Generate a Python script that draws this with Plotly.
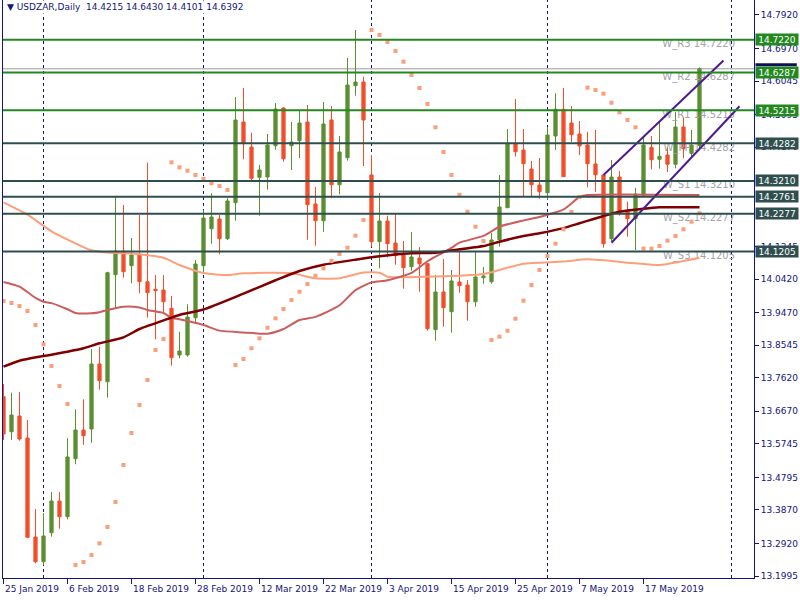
import plotly.graph_objects as go

# ---------------- data ----------------
bar_index = list(range(88))
date_tick_bars = [0, 8, 16, 24, 32, 40, 48, 56, 64, 72, 80]
date_tick_labels = ["25 Jan 2019", "6 Feb 2019", "18 Feb 2019", "28 Feb 2019", "12 Mar 2019",
                    "22 Mar 2019", "3 Apr 2019", "15 Apr 2019", "25 Apr 2019", "7 May 2019", "17 May 2019"]
month_separator_bars = [5, 25, 46, 68, 91]

opens = [13.7085, 13.6091, 13.6537, 13.5912, 13.3102, 13.2401, 13.3224, 13.4124, 13.3679, 13.5325,
         13.6139, 13.6168, 13.8013, 13.7510, 14.0548, 14.1220, 14.0803, 14.1127, 14.0349, 14.0133,
         14.0113, 13.9594, 13.8268, 13.8268, 13.9327, 14.0803, 14.1853, 14.2129, 14.1570, 14.2591,
         14.4882, 14.4172, 14.3312, 14.3321, 14.4209, 14.5279, 14.4209, 14.4351, 14.4882, 14.2555,
         14.2080, 14.4939, 14.3102, 14.3869, 14.5912, 14.6017, 14.3378, 14.1484, 14.2072, 14.1447,
         14.1107, 14.0775, 14.1022, 14.0860, 13.8987, 14.0057, 13.9497, 14.0340, 14.0255, 13.9781,
         14.0463, 14.0349, 14.1541, 14.2449, 14.4266, 14.4087, 14.3548, 14.3094, 14.2875, 14.4485,
         14.5243, 14.4854, 14.4541, 14.4229, 14.3690, 14.3378, 14.1570, 14.3321, 14.2364, 14.2137,
         14.2810, 14.4164, 14.3823, 14.3945, 14.3681, 14.4740, 14.3994, 14.4215]
highs = [13.7445, 13.7198, 13.7218, 13.6423, 13.3897, 13.3784, 13.4380, 13.4380, 13.5904, 13.6727,
         13.7011, 13.8439, 13.8495, 14.0633, 14.2753, 14.2526, 14.1589, 14.2242, 14.3727, 14.0539,
         14.0539, 13.9943, 13.8930, 13.9707, 14.0965, 14.2384, 14.2858, 14.2242, 14.2716, 14.5592,
         14.5847, 14.4578, 14.3662, 14.4541, 14.5421, 14.5308, 14.4882, 14.5223, 14.5365, 14.3037,
         14.5450, 14.5336, 14.4485, 14.6699, 14.7493, 14.6168, 14.3945, 14.2867, 14.2222, 14.2279,
         14.1504, 14.1760, 14.1334, 14.0880, 14.0539, 14.0993, 14.0681, 14.1220, 14.0397, 14.1220,
         14.0766, 14.1731, 14.3378, 14.4683, 14.5535, 14.4683, 14.3775, 14.3860, 14.4740, 14.5697,
         14.5847, 14.5336, 14.4910, 14.4607, 14.4655, 14.3406, 14.3803, 14.3491, 14.2620, 14.3017,
         14.4493, 14.4485, 14.4910, 14.4164, 14.5166, 14.5015, 14.4655, 14.6430]
lows = [13.5856, 13.5856, 13.5836, 13.3074, 13.2356, 13.2308, 13.3111, 13.3338, 13.3605, 13.5166,
        13.5714, 13.5779, 13.7283, 13.7056, 13.9574, 14.0463, 14.0304, 14.0020, 13.9327, 13.8714,
        13.9452, 13.7965, 13.8175, 13.8220, 13.9168, 14.0587, 14.1428, 14.1127, 14.1533, 14.2080,
        14.3823, 14.3187, 14.2222, 14.2960, 14.4096, 14.3755, 14.3520, 14.3860, 14.1541, 14.1371,
        14.1768, 14.2716, 14.2830, 14.3784, 14.5629, 14.3633, 14.1342, 14.0729, 14.1041, 14.0832,
        14.0150, 14.0661, 14.0065, 13.8958, 13.8674, 13.9072, 13.8901, 14.0037, 13.9242, 13.9639,
        14.0292, 14.0292, 14.1342, 14.2441, 14.3897, 14.2762, 14.2782, 14.2705, 14.2677, 14.4087,
        14.3321, 14.4314, 14.3945, 14.3029, 14.2904, 14.1314, 14.1496, 14.2222, 14.1626, 14.1249,
        14.2782, 14.3539, 14.3557, 14.3463, 14.3568, 14.3852, 14.3897, 14.4101]
closes = [13.6026, 13.6565, 13.5884, 13.3094, 13.2401, 13.3131, 13.4124, 13.3679, 13.5373, 13.6139,
          13.5978, 13.8013, 13.7539, 14.0604, 14.1220, 14.0633, 14.1107, 14.0349, 14.0037, 14.0094,
          13.9781, 13.8192, 13.8382, 13.9347, 14.0851, 14.2157, 14.2186, 14.1570, 14.2640, 14.4939,
          14.4266, 14.3284, 14.3520, 14.4229, 14.5251, 14.3840, 14.4314, 14.4854, 14.2535, 14.2080,
          14.4825, 14.3102, 14.4031, 14.5932, 14.6017, 14.4939, 14.1484, 14.2072, 14.1428, 14.1087,
          14.0746, 14.1050, 14.0860, 13.9015, 14.0057, 13.9611, 14.0369, 14.0235, 13.9781, 14.0482,
          14.0511, 14.1533, 14.2469, 14.4266, 14.4039, 14.3698, 14.3102, 14.2904, 14.4513, 14.5243,
          14.3329, 14.4522, 14.4201, 14.3698, 14.3386, 14.1428, 14.3321, 14.2364, 14.2137, 14.2838,
          14.4229, 14.3812, 14.3908, 14.3681, 14.4740, 14.4124, 14.4229, 14.6392]
parabolic_sar = [13.9801, 13.9744, 13.9659, 13.9517, 13.9120, 13.8572, 13.7956, 13.7388, 13.6878, 13.2308,
                 13.2393, 13.2591, 13.2923, 13.3386, 13.4096, 13.5146, 13.6054, 13.6849, 13.7559, 13.8410,
                 13.8723, 14.3738, 14.3596, 14.3500, 14.3378, 14.3264, 14.3142, 14.3065, 14.2952, 13.7985,
                 13.8155, 13.8459, 13.8742, 13.9043, 13.9310, 13.9574, 13.9830, 14.0065, 14.0284, 14.0519,
                 14.0729, 14.0937, 14.1135, 14.1314, 14.1655, 14.2100, 14.7493, 14.7352, 14.7153, 14.6897,
                 14.6594, 14.6216, 14.5847, 14.5393, 14.4732, 14.4031, 14.3378, 14.2818, 14.2336, 14.1910,
                 14.1504, 13.8694, 13.8788, 13.8958, 13.9299, 13.9810, 14.0255, 14.0681, 14.1078, 14.1428,
                 14.1836, 14.2327, 14.2753, 14.5856, 14.5790, 14.5685, 14.5430, 14.5157, 14.4939, 14.4732,
                 14.1286, 14.1286, 14.1362, 14.1513, 14.1646, 14.1836, 14.2052, 14.2290]

ma_slow_bars = [0, 2, 5, 8, 10, 12, 15, 17, 20, 22, 25, 30, 34, 37, 40, 44, 47, 51, 54, 57, 60, 62,
                65, 67, 70, 72, 75, 77, 80, 82, 87]
ma_slow = [13.7936, 13.8107, 13.8240, 13.8362, 13.8459, 13.8600, 13.8770, 13.9006, 13.9250, 13.9404,
           13.9560, 14.0010, 14.0390, 14.0653, 14.0830, 14.0975, 14.1070, 14.1155, 14.1172, 14.1269,
           14.1360, 14.1484, 14.1645, 14.1723, 14.1870, 14.2007, 14.2215, 14.2336, 14.2420, 14.2461, 14.2461]
ma_mid_bars = [0, 2, 4, 5, 6, 8, 9, 11, 12, 13, 15, 17, 18, 20, 21, 22, 25, 27, 30, 33, 35, 37, 39,
               42, 44, 46, 48, 51, 53, 56, 57, 60, 62, 65, 67, 70, 72, 73, 87]
ma_mid = [14.0340, 14.0207, 13.9890, 13.9781, 13.9740, 13.9566, 13.9460, 13.9452, 13.9480, 13.9546,
          13.9639, 13.9617, 13.9546, 13.9460, 13.9320, 13.9282, 13.9120, 13.8960, 13.8910, 13.8873,
          13.9006, 13.9262, 13.9350, 13.9680, 14.0110, 14.0330, 14.0390, 14.0600, 14.0930, 14.1310,
          14.1456, 14.1650, 14.1910, 14.2090, 14.2186, 14.2400, 14.2753, 14.2810, 14.2810]
ma_fast_bars = [0, 3, 6, 11, 13, 17, 20, 22, 25, 28, 30, 36, 39, 42, 45, 47, 48, 60, 62, 65, 70, 73,
                79, 82, 87]
ma_fast = [14.2600, 14.2250, 14.1780, 14.1240, 14.1175, 14.1130, 14.1030, 14.0823, 14.0596, 14.0539,
           14.0587, 14.0587, 14.0445, 14.0445, 14.0610, 14.0604, 14.0491, 14.0568, 14.0681, 14.0860,
           14.0920, 14.0985, 14.0871, 14.0823, 14.1030]

pivot_names = ["W_R3", "W_R2", "W_R1", "W_PP", "W_S1", "W_S2", "W_S3"]
pivot_levels = [14.7220, 14.6287, 14.5215, 14.4282, 14.3210, 14.2277, 14.1205]
extra_level = 14.2761
bid_price = 14.6392

channel_upper_bars = [75, 90]
channel_upper = [14.3378, 14.6628]
channel_lower_bars = [76, 92]
channel_lower = [14.1456, 14.5328]

# visible price-scale labels (the ones fully covered by level boxes are omitted)
y_tick_vals = [14.7920, 14.6970, 14.6045, 14.5095, 14.4170, 14.1345, 14.0420,
               13.9470, 13.8545, 13.7620, 13.6670, 13.5745, 13.4795, 13.3870, 13.2920, 13.1995]

title_text = "▼ USDZAR,Daily  14.4215 14.6430 14.4101 14.6392"

# ---------------- styling ----------------
NAVY = "#14147a"
GREEN_C = "#5b8f31"
RED_C = "#f24e2a"
LEVEL_GREEN = "#23891f"
LEVEL_DARK = "#2f4f4f"
FONT = "DejaVu Sans"

fig = go.Figure()

# pivot text labels (drawn under candles)
fig.add_trace(go.Scatter(
    x=[91.45] * len(pivot_levels), y=pivot_levels, mode="text",
    text=[f"{n} {v:.4f}" for n, v in zip(pivot_names, pivot_levels)],
    textposition="bottom left", textfont=dict(family=FONT, size=10, color="#a3a3a8"),
    hoverinfo="skip", showlegend=False))

fig.add_trace(go.Candlestick(
    x=bar_index, open=opens, high=highs, low=lows, close=closes,
    increasing=dict(line=dict(color=GREEN_C, width=1), fillcolor=GREEN_C),
    decreasing=dict(line=dict(color=RED_C, width=1), fillcolor=RED_C),
    whiskerwidth=0, showlegend=False, hoverinfo="skip"))

fig.add_trace(go.Scatter(x=ma_fast_bars, y=ma_fast, mode="lines",
                         line=dict(color="#fca07c", width=2, shape="spline", smoothing=0.6),
                         showlegend=False, hoverinfo="skip"))
fig.add_trace(go.Scatter(x=ma_mid_bars, y=ma_mid, mode="lines",
                         line=dict(color="#cd5c5c", width=2, shape="spline", smoothing=0.6),
                         showlegend=False, hoverinfo="skip"))
fig.add_trace(go.Scatter(x=ma_slow_bars, y=ma_slow, mode="lines",
                         line=dict(color="#800000", width=2.5, shape="spline", smoothing=0.6),
                         showlegend=False, hoverinfo="skip"))
fig.add_trace(go.Scatter(x=bar_index, y=parabolic_sar, mode="markers",
                         marker=dict(symbol="square", size=4, color="#fb9e7b", line=dict(width=0)),
                         showlegend=False, hoverinfo="skip"))

# channel lines
for bx, by in [(channel_upper_bars, channel_upper), (channel_lower_bars, channel_lower)]:
    fig.add_trace(go.Scatter(x=bx, y=by, mode="lines", line=dict(color="#4f1a8f", width=2),
                             showlegend=False, hoverinfo="skip"))

shapes = []
for b in month_separator_bars:
    shapes.append(dict(type="line", xref="x", yref="paper", x0=b, x1=b, y0=0, y1=1,
                       line=dict(color=NAVY, width=1, dash="3px,3px"), layer="below"))
shapes.append(dict(type="line", xref="paper", yref="y", x0=0, x1=1, y0=bid_price, y1=bid_price,
                   line=dict(color="#9a9aa0", width=1), layer="below"))
# top edge of the (covered) bid price box on the scale
shapes.append(dict(type="rect", xref="paper", yref="y", x0=1.002, x1=1.057,
                   y0=bid_price + 0.0071, y1=bid_price + 0.0155,
                   line=dict(width=0), fillcolor="#10105a", layer="above"))
level_colors = [LEVEL_GREEN, LEVEL_GREEN, LEVEL_GREEN, LEVEL_DARK, LEVEL_DARK, LEVEL_DARK, LEVEL_DARK]
for lv, col in zip(pivot_levels + [extra_level], level_colors + [LEVEL_DARK]):
    shapes.append(dict(type="line", xref="paper", yref="y", x0=0, x1=1, y0=lv, y1=lv,
                       line=dict(color=col, width=2), layer="above"))

annotations = []
for lv, col in zip(pivot_levels + [extra_level], level_colors + [LEVEL_DARK]):
    annotations.append(dict(xref="paper", x=1, xanchor="left", xshift=1, yref="y", y=lv,
                            text=f"{lv:.4f}", showarrow=False, bgcolor=col,
                            font=dict(family=FONT, size=9, color="white"), width=42, height=11,
                            borderpad=0))
for b, t in zip(date_tick_bars, date_tick_labels):
    annotations.append(dict(xref="x", x=b, xanchor="left", xshift=-1, yref="paper", y=0,
                            yanchor="top", yshift=-4, text=t, showarrow=False,
                            font=dict(family=FONT, size=9, color=NAVY)))
annotations.append(dict(xref="paper", x=0, xanchor="left", xshift=2, yref="paper", y=1,
                        yanchor="top", yshift=0, text=title_text, showarrow=False,
                        bgcolor="white", font=dict(family=FONT, size=9, color=NAVY), borderpad=1))

fig.update_layout(
    width=800, height=600,
    margin=dict(l=3, r=46, t=0, b=22),
    paper_bgcolor="white", plot_bgcolor="white",
    boxgap=0.42,
    shapes=shapes, annotations=annotations,
    showlegend=False,
    xaxis=dict(range=[-0.0625, 93.8125], showgrid=False, zeroline=False,
               tickvals=date_tick_bars, ticks="outside", ticklen=5, tickcolor=NAVY,
               showticklabels=False, showline=True, linecolor=NAVY, linewidth=1,
               rangeslider=dict(visible=False)),
    yaxis=dict(range=[13.19385, 14.8345], side="right", showgrid=False, zeroline=False,
               tickvals=y_tick_vals, ticktext=[f"{v:.4f}" for v in y_tick_vals],
               ticks="outside", ticklen=4, tickcolor=NAVY,
               tickfont=dict(family=FONT, size=9, color=NAVY),
               showline=True, linecolor=NAVY, linewidth=1, mirror=True),
)

fig.write_html("out.html", config={"displayModeBar": False},
               post_script="document.body.style.margin='0px';document.body.style.overflow='hidden';")
